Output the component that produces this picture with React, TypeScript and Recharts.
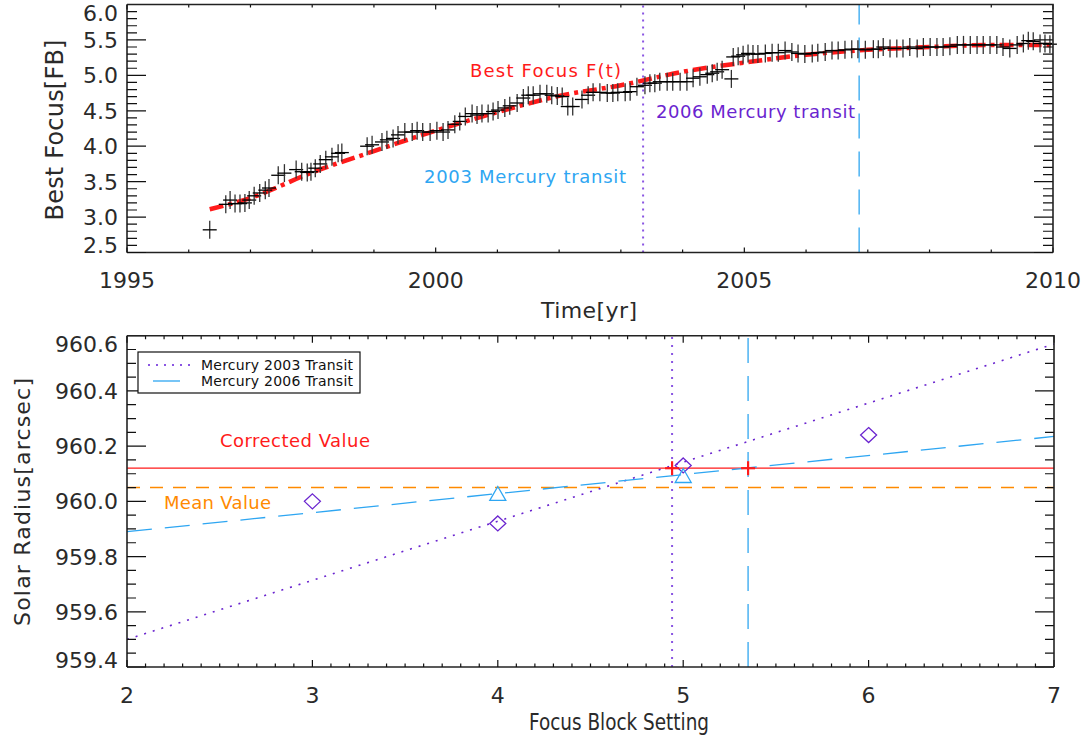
import React from 'react';
import { ComposedChart, Line, Scatter, XAxis, YAxis, ReferenceLine } from 'recharts';

// top panel: best focus measurements over time
const FOCUS_YEARS = [
  1996.34, 1996.60, 1996.67, 1996.75, 1996.83, 1996.91, 1996.98, 1997.06, 1997.15, 1997.24,
  1997.30, 1997.45, 1997.55, 1997.74, 1997.83, 1997.92, 1997.98, 1998.05, 1998.13, 1998.22,
  1998.32, 1998.42, 1998.48, 1998.89, 1998.97, 1999.13, 1999.21, 1999.31, 1999.39, 1999.50,
  1999.62, 1999.70, 1999.79, 1999.91, 2000.02, 2000.12, 2000.20, 2000.31, 2000.39, 2000.48,
  2000.59, 2000.67, 2000.75, 2000.85, 2000.93, 2001.01, 2001.12, 2001.20, 2001.32, 2001.42,
  2001.50, 2001.58, 2001.69, 2001.80, 2001.88, 2001.97, 2002.05, 2002.14, 2002.22, 2002.37,
  2002.47, 2002.55, 2002.66, 2002.78, 2002.87, 2002.95, 2003.07, 2003.15, 2003.26, 2003.39,
  2003.47, 2003.55, 2003.63, 2003.75, 2003.84, 2003.96, 2004.07, 2004.17, 2004.28, 2004.40,
  2004.48, 2004.56, 2004.64, 2004.79, 2004.82, 2004.90, 2004.98, 2005.06, 2005.14, 2005.22,
  2005.34, 2005.45, 2005.55, 2005.66, 2005.77, 2005.87, 2005.98, 2006.10, 2006.19, 2006.31,
  2006.42, 2006.52, 2006.63, 2006.74, 2006.84, 2006.96, 2007.09, 2007.17, 2007.25, 2007.36,
  2007.47, 2007.57, 2007.68, 2007.80, 2007.90, 2008.01, 2008.12, 2008.22, 2008.33, 2008.45,
  2008.55, 2008.66, 2008.77, 2008.87, 2008.98, 2009.09, 2009.19, 2009.30, 2009.42, 2009.52,
  2009.60, 2009.68, 2009.79, 2009.87, 2009.95,
];
const FOCUS_VALUES = [
  2.82, 3.18, 3.24, 3.19, 3.19, 3.20, 3.24, 3.30, 3.34, 3.38,
  3.41, 3.59, 3.62, 3.67, 3.64, 3.63, 3.64, 3.69, 3.75, 3.81,
  3.85, 3.90, 3.91, 4.00, 4.02, 4.06, 4.09, 4.11, 4.16, 4.20,
  4.20, 4.22, 4.20, 4.20, 4.22, 4.20, 4.23, 4.31, 4.35, 4.42,
  4.46, 4.44, 4.46, 4.46, 4.49, 4.51, 4.54, 4.57, 4.61, 4.68,
  4.72, 4.72, 4.74, 4.74, 4.72, 4.71, 4.70, 4.56, 4.56, 4.66,
  4.72, 4.76, 4.76, 4.75, 4.75, 4.76, 4.76, 4.77, 4.84, 4.86,
  4.89, 4.89, 4.91, 4.91, 4.91, 4.91, 4.91, 4.96, 4.98, 5.01,
  5.03, 5.05, 5.08, 4.95, 5.26, 5.27, 5.29, 5.31, 5.30, 5.30,
  5.31, 5.32, 5.32, 5.35, 5.33, 5.31, 5.30, 5.31, 5.32, 5.33,
  5.35, 5.35, 5.36, 5.37, 5.37, 5.36, 5.37, 5.37, 5.40, 5.38,
  5.38, 5.38, 5.40, 5.38, 5.40, 5.40, 5.40, 5.40, 5.41, 5.43,
  5.43, 5.43, 5.43, 5.43, 5.43, 5.43, 5.40, 5.38, 5.43, 5.45,
  5.49, 5.48, 5.45, 5.45, 5.44,
];
const FIT_YEARS = [1996.34, 1997, 1998, 1999, 2000, 2001, 2002, 2003, 2004, 2005, 2006, 2007, 2008, 2009, 2010];
const FIT_VALUES = [3.11, 3.27, 3.63, 3.93, 4.22, 4.48, 4.71, 4.86, 5.05, 5.18, 5.29, 5.36, 5.40, 5.43, 5.43];
const TRANSIT_2003 = 2003.36;
const TRANSIT_2006 = 2006.86;
const YEAR_TICKS = [1995, 2000, 2005, 2010];
const FOCUS_TICKS = [2.5, 3.0, 3.5, 4.0, 4.5, 5.0, 5.5, 6.0];

// bottom panel: solar radius vs focus block setting
const BLOCKS_2003 = [3, 4, 5, 6];
const RADIUS_2003 = [960.0, 959.92, 960.13, 960.24];
const BLOCKS_2006 = [4, 5];
const RADIUS_2006 = [960.025, 960.09];
const LINE_X = [2, 7];
const LINE_2003_Y = [959.5, 960.57];
const LINE_2006_Y = [959.89, 960.235];
const CORRECTED_VALUE = 960.12;
const MEAN_VALUE = 960.05;
const BEST_BLOCK_2003 = 4.94;
const BEST_BLOCK_2006 = 5.35;
const BLOCK_TICKS = [2, 3, 4, 5, 6, 7];
const RADIUS_TICKS = [959.4, 959.6, 959.8, 960.0, 960.2, 960.4, 960.6];

const FONT = '"DejaVu Sans", sans-serif';
const INK = '#2a2a2a';
const PURPLE = '#6a24cf';
const PURPLE_LINE = '#8a55e2';
const BLUE = '#2ea6f2';
const BLUE_LINE = '#4cb2f2';
const RED = '#ff1a1a';
const ORANGE = '#ff8a00';

const focusData = FOCUS_YEARS.map((x, i) => ({ x, y: FOCUS_VALUES[i] }));
const fitData = FIT_YEARS.map((x, i) => ({ x, y: FIT_VALUES[i] }));
const pts2003 = BLOCKS_2003.map((x, i) => ({ x, y: RADIUS_2003[i] }));
const pts2006 = BLOCKS_2006.map((x, i) => ({ x, y: RADIUS_2006[i] }));
const line2003 = LINE_X.map((x, i) => ({ x, y: LINE_2003_Y[i] }));
const line2006 = LINE_X.map((x, i) => ({ x, y: LINE_2006_Y[i] }));
const bestPts = [
  { x: BEST_BLOCK_2003, y: CORRECTED_VALUE },
  { x: BEST_BLOCK_2006, y: CORRECTED_VALUE },
];

const steps = (from: number, to: number, step: number) => {
  const out: number[] = [];
  const n = Math.round((to - from) / step);
  for (let i = 0; i <= n; i++) out.push(+(from + i * step).toFixed(4));
  return out;
};
const isIn = (list: number[], v: number) => list.some((m) => Math.abs(m - v) < 1e-6);

// plot boxes (page pixels) as set up by the chart margins and axis sizes below
const TOP_BOX = { left: 127, right: 1053, top: 4.5, bottom: 252.5 };
const BOT_TOP = 310;
const BOT_BOX = { left: 127, right: 1054, top: 335.7, bottom: 667 };

// tick label renderers
const xLabel = (props: any) => {
  const { x, y, payload } = props;
  return (
    <text x={x} y={y + 35.5} textAnchor="middle" fontSize={22} fill={INK} fontFamily={FONT}>
      {Number(payload.value).toFixed(0)}
    </text>
  );
};

const yLabel = (majors: number[]) => (props: any) => {
  const { x, y, payload } = props;
  const v = Number(payload.value);
  let base = y + 8;
  if (Math.abs(v - Math.max(...majors)) < 1e-6) base = y + 16.5;
  if (Math.abs(v - Math.min(...majors)) < 1e-6) base = y + 0.5;
  return (
    <text x={x - 9} y={base} textAnchor="end" fontSize={22} fill={INK} fontFamily={FONT}>
      {v.toFixed(1)}
    </text>
  );
};

const frame = { stroke: '#222', strokeWidth: 1.6 };

// IDL style frame: inward ticks on all four sides
const FrameTicks = (p: {
  box: { left: number; right: number; top: number; bottom: number };
  xd: number[]; xs: number[]; xMaj: number[]; xLen: number[];
  yd: number[]; ys: number[]; yMaj: number[]; yLen: number[];
}) => {
  const { box, xd, xs, xMaj, xLen, yd, ys, yMaj, yLen } = p;
  const sx = (v: number) => box.left + ((v - xd[0]) / (xd[1] - xd[0])) * (box.right - box.left);
  const sy = (v: number) => box.bottom - ((v - yd[0]) / (yd[1] - yd[0])) * (box.bottom - box.top);
  let d = '';
  xs.forEach((v) => {
    const l = isIn(xMaj, v) ? xLen[0] : xLen[1];
    const x = sx(v);
    d += `M${x},${box.bottom}v${-l}M${x},${box.top}v${l}`;
  });
  ys.forEach((v) => {
    const l = isIn(yMaj, v) ? yLen[0] : yLen[1];
    const y = sy(v);
    d += `M${box.left},${y}h${l}M${box.right},${y}h${-l}`;
  });
  return (
    <g>
      <path d={d} stroke="#111" strokeWidth={1.2} fill="none" />
      <path d={`M${box.left},${box.top}H${box.right}V${box.bottom}`} stroke="#222" strokeWidth={1.6} fill="none" />
    </g>
  );
};

const yearTicks = steps(1995, 2010, 1);
const focusTicks = steps(2.5, 6.0, 0.1);
const blockTicks = steps(2, 7, 0.1);
const radiusTicks = steps(959.4, 960.6, 0.05);

const Cross = (props: any) => {
  const { cx, cy } = props;
  return (
    <g>
      <line x1={cx} y1={cy - 9} x2={cx} y2={cy + 9} stroke="#333" strokeWidth={1.3} />
      <line x1={cx - 7} y1={cy} x2={cx + 7} y2={cy} stroke="#000" strokeWidth={1.3} />
    </g>
  );
};

const Diamond = (props: any) => {
  const { cx, cy } = props;
  return (
    <polygon
      points={`${cx},${cy - 7.5} ${cx + 8},${cy} ${cx},${cy + 7.5} ${cx - 8},${cy}`}
      fill="none"
      stroke={PURPLE}
      strokeWidth={1.3}
    />
  );
};

const Triangle = (props: any) => {
  const { cx, cy } = props;
  return (
    <polygon
      points={`${cx},${cy - 8} ${cx + 8},${cy + 6} ${cx - 8},${cy + 6}`}
      fill="none"
      stroke={BLUE}
      strokeWidth={1.3}
    />
  );
};

const RedPlus = (props: any) => {
  const { cx, cy } = props;
  return (
    <g stroke={RED} strokeWidth={2.2}>
      <line x1={cx} y1={cy - 7} x2={cx} y2={cy + 7} />
      <line x1={cx - 7} y1={cy} x2={cx + 7} y2={cy} />
    </g>
  );
};

const FocusChart = () => (
  <ComposedChart width={1091} height={300} margin={{ top: 4.5, right: 38, bottom: 0, left: 0 }}>
    <XAxis dataKey="x" type="number" domain={[1995, 2010]} ticks={YEAR_TICKS} interval={0} height={47.5}
      tickSize={0} tickMargin={0} tickLine={false} axisLine={frame} tick={xLabel} />
    <YAxis type="number" domain={[2.5, 6.0]} ticks={FOCUS_TICKS} interval={0} width={127}
      tickSize={0} tickMargin={0} tickLine={false} axisLine={frame} tick={yLabel(FOCUS_TICKS)} />
    <ReferenceLine x={TRANSIT_2003} stroke={PURPLE_LINE} strokeWidth={2} strokeDasharray="2 5" />
    <ReferenceLine x={TRANSIT_2006} stroke={BLUE_LINE} strokeWidth={1.5} strokeDasharray="25 13" />
    <Scatter data={focusData} dataKey="y" shape={<Cross />} isAnimationActive={false} />
    <Line
      data={fitData}
      dataKey="y"
      type="monotone"
      stroke={RED}
      strokeWidth={4.5}
      strokeDasharray="14 5 4 5"
      dot={false}
      isAnimationActive={false}
    />
  </ComposedChart>
);

const RadiusChart = () => (
  <ComposedChart width={1091} height={420} margin={{ top: BOT_BOX.top - BOT_TOP, right: 37, bottom: 0, left: 0 }}>
    <XAxis dataKey="x" type="number" domain={[2, 7]} ticks={BLOCK_TICKS} interval={0} height={63}
      tickSize={0} tickMargin={0} tickLine={false} axisLine={frame} tick={xLabel} />
    <YAxis type="number" domain={[959.4, 960.6]} ticks={RADIUS_TICKS} interval={0} width={127}
      tickSize={0} tickMargin={0} tickLine={false} axisLine={frame} tick={yLabel(RADIUS_TICKS)} />
    <ReferenceLine y={MEAN_VALUE} stroke={ORANGE} strokeWidth={1.6} strokeDasharray="13 10" />
    <ReferenceLine y={CORRECTED_VALUE} stroke={RED} strokeWidth={1.3} />
    <ReferenceLine x={BEST_BLOCK_2003} stroke={PURPLE_LINE} strokeWidth={2} strokeDasharray="2 6" />
    <ReferenceLine x={BEST_BLOCK_2006} stroke={BLUE_LINE} strokeWidth={1.5} strokeDasharray="25 13" />
    <Line data={line2003} dataKey="y" type="linear" stroke={PURPLE} strokeWidth={1.6} strokeDasharray="2 7" dot={false} isAnimationActive={false} />
    <Line data={line2006} dataKey="y" type="linear" stroke={BLUE} strokeWidth={1.3} strokeDasharray="25 13" dot={false} isAnimationActive={false} />
    <Scatter data={pts2003} dataKey="y" shape={<Diamond />} isAnimationActive={false} />
    <Scatter data={pts2006} dataKey="y" shape={<Triangle />} isAnimationActive={false} />
    <Scatter data={bestPts} dataKey="y" shape={<RedPlus />} isAnimationActive={false} />
  </ComposedChart>
);

const Overlay = () => (
  <svg width={1091} height={740} style={{ position: 'absolute', left: 0, top: 0, pointerEvents: 'none' }} fontFamily={FONT}>
    <FrameTicks box={TOP_BOX} xd={[1995, 2010]} xs={yearTicks} xMaj={YEAR_TICKS} xLen={[5, 3]}
      yd={[2.5, 6.0]} ys={focusTicks} yMaj={FOCUS_TICKS} yLen={[19, 10]} />
    <FrameTicks box={BOT_BOX} xd={[2, 7]} xs={blockTicks} xMaj={BLOCK_TICKS} xLen={[7, 3.5]}
      yd={[959.4, 960.6]} ys={radiusTicks} yMaj={RADIUS_TICKS} yLen={[19, 9]} />

    {/* axis titles */}
    <text transform="translate(63,130) rotate(-90)" textAnchor="middle" fontSize={24} fill={INK} textLength={181} lengthAdjust="spacing">
      Best Focus[FB]
    </text>
    <text x={589} y={318} textAnchor="middle" fontSize={22} fill={INK} textLength={96} lengthAdjust="spacing">
      Time[yr]
    </text>
    <text transform="translate(30,502) rotate(-90)" textAnchor="middle" fontSize={22} fill={INK} textLength={248} lengthAdjust="spacing">
      Solar Radius[arcsec]
    </text>
    <text x={619} y={730} textAnchor="middle" fontSize={23} fill={INK} textLength={180} lengthAdjust="spacingAndGlyphs">
      Focus Block Setting
    </text>

    {/* annotations */}
    <text x={470} y={77} fontSize={18} fill={RED} textLength={151} lengthAdjust="spacing">Best Focus F(t)</text>
    <text x={656} y={118} fontSize={18} fill={PURPLE} textLength={199} lengthAdjust="spacing">2006 Mercury transit</text>
    <text x={424} y={183} fontSize={18} fill={BLUE} textLength={202} lengthAdjust="spacing">2003 Mercury transit</text>
    <text x={220} y={447} fontSize={18} fill={RED} textLength={150} lengthAdjust="spacing">Corrected Value</text>
    <text x={164} y={509} fontSize={18} fill={ORANGE} textLength={107} lengthAdjust="spacing">Mean Value</text>

    {/* legend */}
    <rect x={138} y={352} width={222} height={41} fill="#fff" stroke="#111" strokeWidth={1.2} />
    <line x1={148} y1={365} x2={192} y2={365} stroke={PURPLE_LINE} strokeWidth={2} strokeDasharray="2 6" />
    <line x1={153} y1={381} x2={180} y2={381} stroke={BLUE} strokeWidth={1.3} />
    <text x={201} y={370} fontSize={14} fill="#111" textLength={152} lengthAdjust="spacing">Mercury 2003 Transit</text>
    <text x={201} y={386} fontSize={14} fill="#111" textLength={152} lengthAdjust="spacing">Mercury 2006 Transit</text>
  </svg>
);

export default function App() {
  return (
    <div style={{ position: 'absolute', left: 0, top: 0, width: 1091, height: 740, background: '#fff' }}>
      <div style={{ position: 'absolute', left: 0, top: 0 }}>
        <FocusChart />
      </div>
      <div style={{ position: 'absolute', left: 0, top: BOT_TOP }}>
        <RadiusChart />
      </div>
      <Overlay />
    </div>
  );
}
